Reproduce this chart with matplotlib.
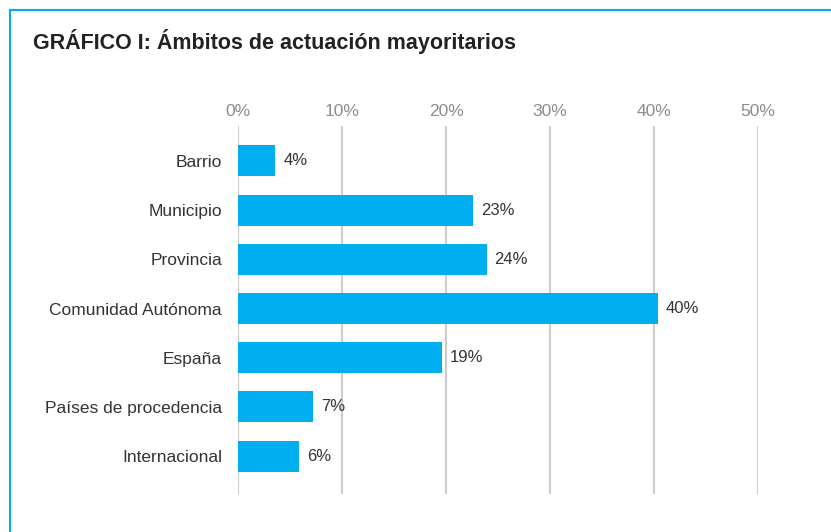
import matplotlib.pyplot as plt
from matplotlib.lines import Line2D

categories = ['Barrio', 'Municipio', 'Provincia', 'Comunidad Autónoma',
              'España', 'Países de procedencia', 'Internacional']
values = [3.6, 22.6, 23.9, 40.4, 19.6, 7.2, 5.9]
labels = ['4%', '23%', '24%', '40%', '19%', '7%', '6%']
ticks = [0, 10, 20, 30, 40, 50]

plt.rcParams['font.family'] = ['Liberation Sans', 'DejaVu Sans']

fig = plt.figure(figsize=(8.31, 5.32), dpi=100)
ax = fig.add_axes([238 / 831, 1 - 494 / 532, 520 / 831, (494 - 126) / 532])

pos = list(range(len(categories)))
ax.barh(pos, values, height=0.63, color='#00aeef', zorder=2)
for p, v, lab in zip(pos, values, labels):
    ax.text(v + 0.75, p, lab, va='center', ha='left', fontsize=12, color='#333333')

ax.set_xlim(0, 50)
ax.set_ylim(6.77, -0.71)
ax.set_xticks(ticks)
ax.set_xticklabels([f'{t}%' for t in ticks])
ax.xaxis.tick_top()
ax.tick_params(axis='x', length=0, pad=5, labelsize=12.5, labelcolor='#8c8c8c')
ax.set_yticks(pos)
ax.set_yticklabels(categories)
ax.tick_params(axis='y', length=0, pad=11.5, labelsize=12.5, labelcolor='#333333')
ax.grid(axis='x', color='#cccccc', linewidth=1.5, zorder=0)
for s in ax.spines.values():
    s.set_visible(False)

fig.text(33 / 831, 1 - 42 / 532, 'GRÁFICO I: Ámbitos de actuación mayoritarios',
         fontsize=15.5, fontweight='bold', color='#222222', va='center', ha='left')

fig.add_artist(Line2D([10 / 831, 1], [1 - 10 / 532, 1 - 10 / 532],
                      transform=fig.transFigure, color='#00aeef', linewidth=1.5))
fig.add_artist(Line2D([10 / 831, 10 / 831], [0, 1 - 10 / 532],
                      transform=fig.transFigure, color='#00aeef', linewidth=1.5))

fig.savefig('out.png', dpi=100)
